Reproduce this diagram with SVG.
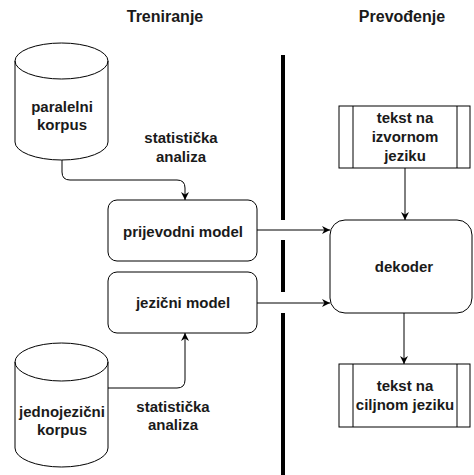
<svg xmlns="http://www.w3.org/2000/svg" width="474" height="475" viewBox="0 0 474 475">
<style>
.s{fill:#fff;stroke:#000;stroke-width:1}
.c{fill:none;stroke:#000;stroke-width:1}
text{font-family:"Liberation Sans",Arial,sans-serif;font-weight:bold;font-size:15px;fill:#1a1a1a;text-anchor:middle}
.h{font-size:16px}
</style>
<defs>
<marker id="a" viewBox="0 0 10 10" refX="10" refY="5" markerWidth="8" markerHeight="8" markerUnits="userSpaceOnUse" orient="auto">
<path d="M0,0 L10,5 L0,10 L3,5 Z" fill="#000"/>
</marker>
</defs>
<rect width="474" height="475" fill="#fff"/>
<text class="h" x="165" y="22">Treniranje</text>
<text class="h" x="402" y="22">Prevođenje</text>
<g id="divider" stroke="#000" stroke-width="4">
<line x1="283" y1="55" x2="283" y2="220"/>
<line x1="283" y1="240" x2="283" y2="292"/>
<line x1="283" y1="313" x2="283" y2="475"/>
</g>
<g id="connectors">
<path class="c" d="M62,160 V172 Q62,180 70,180 H177 Q185,180 185,188 V200" marker-end="url(#a)"/>
<path class="c" d="M108,388 H177 Q185,388 185,380 V333" marker-end="url(#a)"/>
<path class="c" d="M257,230 H330" marker-end="url(#a)"/>
<path class="c" d="M257,303 H330" marker-end="url(#a)"/>
<path class="c" d="M405,168 V220" marker-end="url(#a)"/>
<path class="c" d="M404,313 V364" marker-end="url(#a)"/>
</g>
<g id="paralelni">
<path class="s" d="M15,61 A46.5,18 0 0 1 108,61 V142 A46.5,18 0 0 1 15,142 Z"/>
<path class="c" d="M15,61 A46.5,18 0 0 0 108,61"/>
<text x="62" y="112">paralelni</text>
<text x="62" y="130">korpus</text>
</g>
<g id="jednojezicni">
<path class="s" d="M15,362 A46.5,19 0 0 1 108,362 V448 A46.5,19 0 0 1 15,448 Z"/>
<path class="c" d="M15,362 A46.5,19 0 0 0 108,362"/>
<text x="62" y="417">jednojezični</text>
<text x="62" y="435">korpus</text>
</g>
<text x="181" y="143">statistička</text>
<text x="181" y="162">analiza</text>
<text x="173" y="412">statistička</text>
<text x="173" y="430">analiza</text>
<g id="prijevodni">
<rect class="s" x="108" y="200" width="149" height="61" rx="9"/>
<text x="183" y="237">prijevodni model</text>
</g>
<g id="jezicni">
<rect class="s" x="108" y="272" width="149" height="61" rx="9"/>
<text x="183" y="308">jezični model</text>
</g>
<g id="dekoder">
<rect class="s" x="330" y="220" width="142" height="93" rx="15"/>
<text x="404" y="272">dekoder</text>
</g>
<g id="izvorni">
<rect class="s" x="339" y="106" width="131" height="62"/>
<line class="c" x1="353" y1="106" x2="353" y2="168"/>
<line class="c" x1="457" y1="106" x2="457" y2="168"/>
<text x="405" y="123">tekst na</text>
<text x="405" y="142">izvornom</text>
<text x="405" y="161">jeziku</text>
</g>
<g id="ciljni">
<rect class="s" x="339" y="364" width="131" height="63"/>
<line class="c" x1="353" y1="364" x2="353" y2="427"/>
<line class="c" x1="457" y1="364" x2="457" y2="427"/>
<text x="405" y="391">tekst na</text>
<text x="405" y="410">ciljnom jeziku</text>
</g>
</svg>
